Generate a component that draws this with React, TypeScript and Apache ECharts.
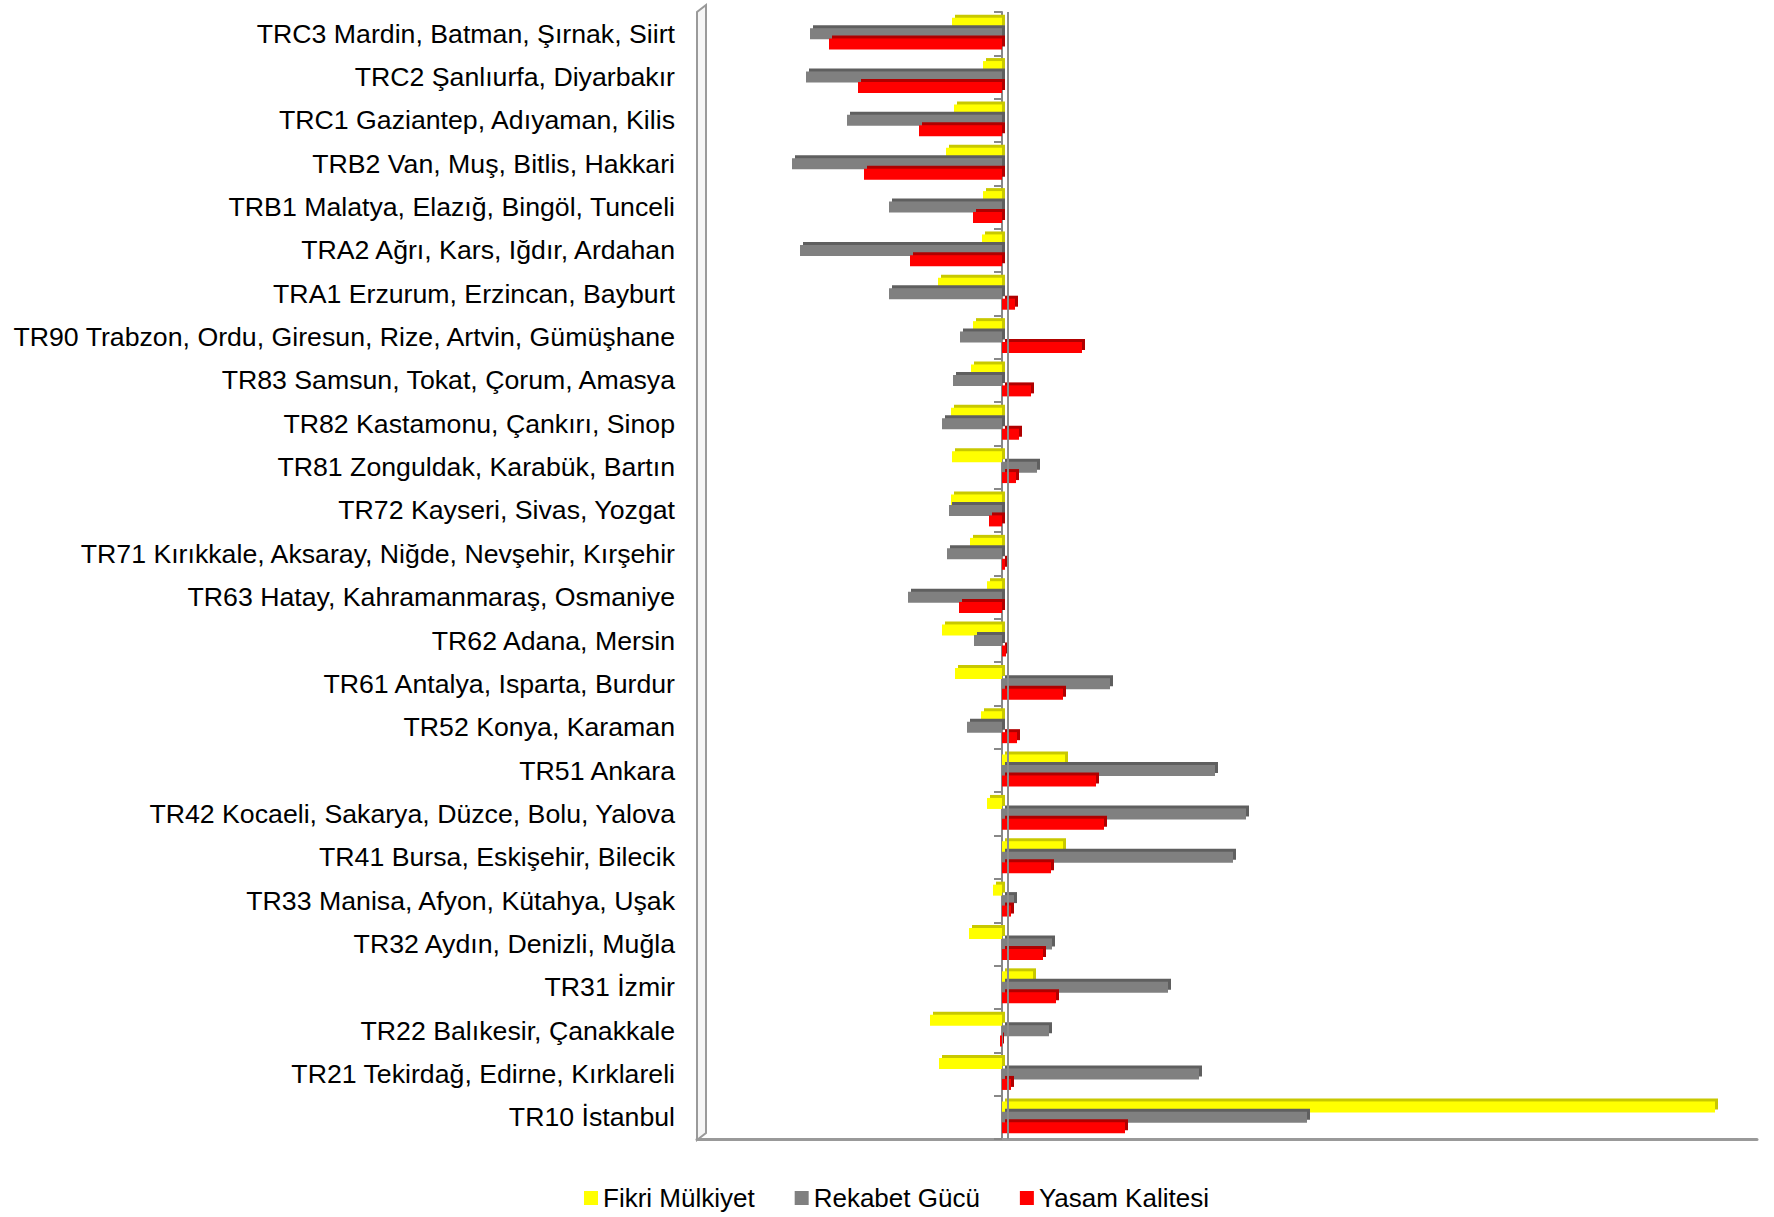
import React, { useEffect, useRef } from "react";
import * as echarts from "echarts";

const categories = [
  "TRC3 Mardin, Batman, Şırnak, Siirt",
  "TRC2 Şanlıurfa, Diyarbakır",
  "TRC1 Gaziantep, Adıyaman, Kilis",
  "TRB2 Van, Muş, Bitlis, Hakkari",
  "TRB1 Malatya, Elazığ, Bingöl, Tunceli",
  "TRA2 Ağrı, Kars, Iğdır, Ardahan",
  "TRA1 Erzurum, Erzincan, Bayburt",
  "TR90 Trabzon, Ordu, Giresun, Rize, Artvin, Gümüşhane",
  "TR83 Samsun, Tokat, Çorum, Amasya",
  "TR82 Kastamonu, Çankırı, Sinop",
  "TR81 Zonguldak, Karabük, Bartın",
  "TR72 Kayseri, Sivas, Yozgat",
  "TR71 Kırıkkale, Aksaray, Niğde, Nevşehir, Kırşehir",
  "TR63 Hatay, Kahramanmaraş, Osmaniye",
  "TR62 Adana, Mersin",
  "TR61 Antalya, Isparta, Burdur",
  "TR52 Konya, Karaman",
  "TR51 Ankara",
  "TR42 Kocaeli, Sakarya, Düzce, Bolu, Yalova",
  "TR41 Bursa, Eskişehir, Bilecik",
  "TR33 Manisa, Afyon, Kütahya, Uşak",
  "TR32 Aydın, Denizli, Muğla",
  "TR31 İzmir",
  "TR22 Balıkesir, Çanakkale",
  "TR21 Tekirdağ, Edirne, Kırklareli",
  "TR10 İstanbul",
];

const seriesNames = ["Fikri Mülkiyet", "Rekabet Gücü", "Yasam Kalitesi"];

const fikriMulkiyet = [
  -0.5, -0.19, -0.48, -0.56, -0.19, -0.2, -0.64, -0.29, -0.31, -0.51, -0.5, -0.51, -0.32,
  -0.15, -0.6, -0.47, -0.21, 0.63, -0.15, 0.61, -0.09, -0.33, 0.31, -0.72, -0.63, 7.13,
];

const rekabetGucu = [
  -1.92, -1.96, -1.55, -2.1, -1.13, -2.02, -1.13, -0.42, -0.49, -0.6, 0.35, -0.53, -0.55,
  -0.94, -0.28, 1.08, -0.35, 2.13, 2.44, 2.31, 0.12, 0.5, 1.66, 0.47, 1.97, 3.05,
];

const yasamKalitesi = [
  -1.73, -1.44, -0.83, -1.38, -0.29, -0.92, 0.13, 0.8, 0.29, 0.17, 0.14, -0.13, 0.03,
  -0.43, 0.04, 0.61, 0.15, 0.94, 1.02, 0.49, 0.09, 0.41, 0.54, -0.02, 0.09, 1.23,
];

const xMin = -3.05;
const xMax = 7.55;

const colors = ["#FFFF00", "#808080", "#FF0000"];
const shadeColors = ["#C8C800", "#5E5E5E", "#B00000"];

export default function App() {
  const ref = useRef<HTMLDivElement>(null);

  useEffect(() => {
    if (!ref.current) return;
    const chart = echarts.init(ref.current, null, { renderer: "svg" });
    const font = "'Liberation Sans', Arial, sans-serif";
    const values = [fikriMulkiyet, rekabetGucu, yasamKalitesi];

    const series: any[] = values.map((data, i) => ({
      name: seriesNames[i],
      type: "bar",
      data,
      barWidth: 11,
      barGap: "-5%",
      itemStyle: {
        color: colors[i],
        shadowColor: shadeColors[i],
        shadowOffsetX: 3,
        shadowOffsetY: -3,
        shadowBlur: 0,
      },
      ...(i === 0
        ? {
            markLine: {
              silent: true,
              symbol: ["none", "none"],
              label: { show: false },
              lineStyle: { color: "#8c8c8c", width: 2, type: "solid" },
              data: [{ xAxis: 0.06 }],
            },
          }
        : {}),
    }));

    chart.setOption({
      animation: false,
      backgroundColor: "#ffffff",
      textStyle: { fontFamily: font },
      grid: {
        left: 697,
        right: 17,
        top: 12,
        bottom: 78,
        containLabel: false,
        outerBoundsMode: "none",
      },
      legend: {
        data: seriesNames,
        left: 579,
        top: 1180,
        icon: "rect",
        itemWidth: 14,
        itemHeight: 14,
        itemGap: 40,
        textStyle: { fontSize: 26, color: "#000", fontFamily: font },
      },
      xAxis: {
        type: "value",
        min: xMin,
        max: xMax,
        axisLabel: { show: false },
        axisTick: { show: false },
        splitLine: { show: false },
        axisLine: { show: true, onZero: false, lineStyle: { color: "#999", width: 3 } },
      },
      yAxis: {
        type: "category",
        data: categories,
        inverse: true,
        axisLine: { show: true, onZero: true, lineStyle: { color: "#888", width: 2 } },
        axisTick: { show: true, length: 8, lineStyle: { color: "#888", width: 2 } },
        axisLabel: {
          margin: 22,
          fontSize: 26.7,
          color: "#000",
          fontFamily: font,
          interval: 0,
        },
        splitLine: { show: false },
      },
      graphic: [
        {
          type: "polygon",
          silent: true,
          shape: {
            points: [
              [697, 1140],
              [697, 12],
              [706, 5],
              [706, 1133],
            ],
          },
          style: { fill: "#f6f6f6", stroke: "#9a9a9a", lineWidth: 2 },
          z: -1,
        },
      ],
      series,
    });

    return () => chart.dispose();
  }, []);

  return (
    <div
      ref={ref}
      style={{ position: "absolute", left: 0, top: 0, width: 1774, height: 1217 }}
    />
  );
}
